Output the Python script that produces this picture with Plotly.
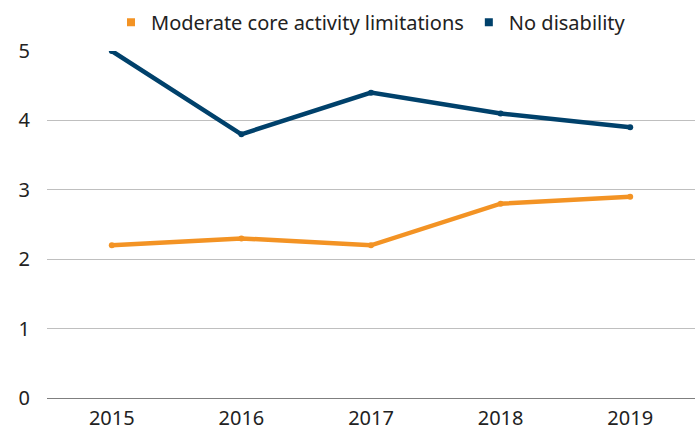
import plotly.graph_objects as go

years = ["2015", "2016", "2017", "2018", "2019"]
moderate = [2.2, 2.3, 2.2, 2.8, 2.9]
no_disability = [5.0, 3.8, 4.4, 4.1, 3.9]
y_ticks = [0, 1, 2, 3, 4, 5]

orange = "#F39324"
navy = "#00416B"
font = "Noto Sans"

fig = go.Figure()
fig.add_trace(go.Scatter(x=years, y=moderate, mode="lines+markers", name="Moderate core activity limitations",
                         line=dict(color=orange, width=4.5), marker=dict(size=6, color=orange), showlegend=False))
fig.add_trace(go.Scatter(x=years, y=no_disability, mode="lines+markers", name="No disability",
                         line=dict(color=navy, width=4.5), marker=dict(size=6, color=navy), showlegend=False))
# legend entries (square swatches)
fig.add_trace(go.Scatter(x=[None], y=[None], mode="markers", name="Moderate core activity limitations",
                         marker=dict(symbol="square", size=8, color=orange)))
fig.add_trace(go.Scatter(x=[None], y=[None], mode="markers", name="No disability",
                         marker=dict(symbol="square", size=8, color=navy)))

fig.update_layout(
    width=699, height=432,
    margin=dict(l=47, r=4, t=50, b=34),
    paper_bgcolor="white", plot_bgcolor="white",
    font=dict(family=font, size=20, color="#222222"),
    showlegend=True,
    legend=dict(orientation="h", x=0.5, xanchor="center", y=1.08, yanchor="middle",
                font=dict(size=20, color="#222222"), itemwidth=30, tracegroupgap=0,
                bgcolor="rgba(0,0,0,0)"),
    xaxis=dict(type="category", range=[-0.5, 4.5], showgrid=False, zeroline=False,
               showline=False, ticks="", tickfont=dict(size=20), ticklabelstandoff=6,
               automargin=False),
    yaxis=dict(range=[0, 5], tickvals=y_ticks, showgrid=True, gridcolor="#BFBFBF", gridwidth=1,
               zeroline=True, zerolinecolor="#7F7F7F", zerolinewidth=1.3, showline=False,
               ticks="", tickfont=dict(size=20), ticklabelstandoff=16, automargin=False),
)

fig.write_html("out.html")
